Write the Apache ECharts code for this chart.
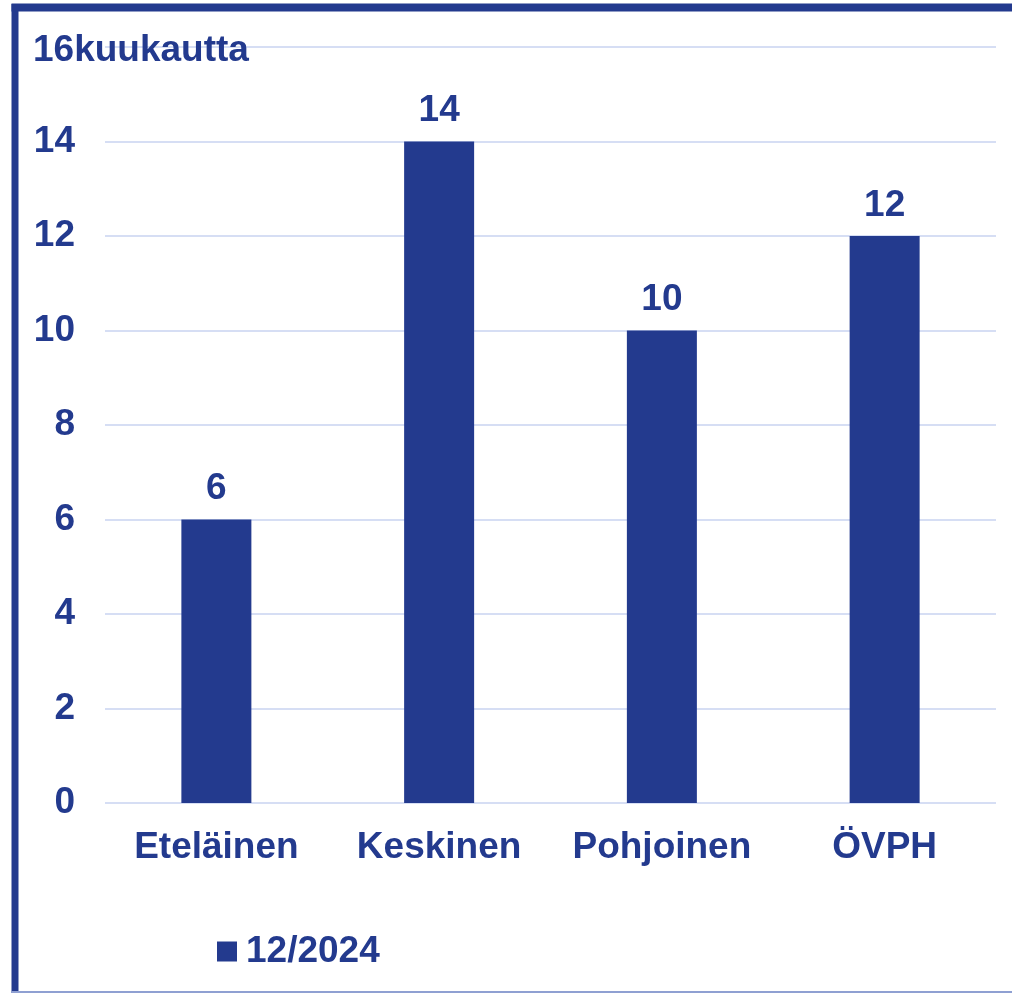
<!DOCTYPE html>
<html>
<head>
<meta charset="utf-8">
<script src="https://cdn.jsdelivr.net/npm/echarts@6/dist/echarts.min.js"></script>
<style>
  html, body { margin: 0; padding: 0; background: #fff; }
  #chart { width: 1012px; height: 993px; }
</style>
</head>
<body>
<div id="chart"></div>
<script>
var categories = ['Eteläinen', 'Keskinen', 'Pohjoinen', 'ÖVPH'];
var values = [6, 14, 10, 12];
var seriesName = '12/2024';
var unitLabel = '16kuukautta';

var blue = '#233A8E';
var font = 'Liberation Sans, Arial, sans-serif';
var fs = 37;

var myChart = echarts.init(document.getElementById('chart'));
myChart.setOption({
  animation: false,
  title: {
    text: unitLabel,
    left: 28,
    top: 27,
    textStyle: { color: blue, fontFamily: font, fontWeight: 'bold', fontSize: fs }
  },
  legend: {
    left: 212,
    top: 928,
    itemWidth: 20,
    itemHeight: 20,
    icon: 'rect',
    textStyle: { color: blue, fontFamily: font, fontWeight: 'bold', fontSize: fs, padding: [0, 0, 0, 4] },
    data: [seriesName]
  },
  grid: { left: 105, right: 16, top: 47, bottom: 190 },
  xAxis: {
    type: 'category',
    data: categories,
    axisLine: { show: false },
    axisTick: { show: false },
    axisLabel: { interval: 0, color: blue, fontFamily: font, fontWeight: 'bold', fontSize: fs, margin: 26 }
  },
  yAxis: {
    type: 'value',
    min: 0,
    max: 16,
    interval: 2,
    axisLine: { show: false },
    axisTick: { show: false },
    splitLine: { lineStyle: { color: '#D6DEF4', width: 2 } },
    axisLabel: {
      color: blue, fontFamily: font, fontWeight: 'bold', fontSize: fs, margin: 30,
      formatter: function (v) { return v === 16 ? '' : v; }
    }
  },
  series: [{
    name: seriesName,
    type: 'bar',
    barWidth: 70,
    data: values,
    itemStyle: { color: blue },
    label: {
      show: true,
      position: 'top',
      distance: 12,
      color: blue, fontFamily: font, fontWeight: 'bold', fontSize: fs
    }
  }],
  graphic: [
    { type: 'line', shape: { x1: 15, y1: 4, x2: 15, y2: 993 }, style: { stroke: blue, lineWidth: 7 } },
    { type: 'line', shape: { x1: 11.5, y1: 7.5, x2: 1012, y2: 7.5 }, style: { stroke: blue, lineWidth: 8 } },
    { type: 'line', shape: { x1: 11, y1: 992, x2: 1012, y2: 992 }, style: { stroke: '#8FA0D2', lineWidth: 2 } }
  ]
});
</script>
</body>
</html>
